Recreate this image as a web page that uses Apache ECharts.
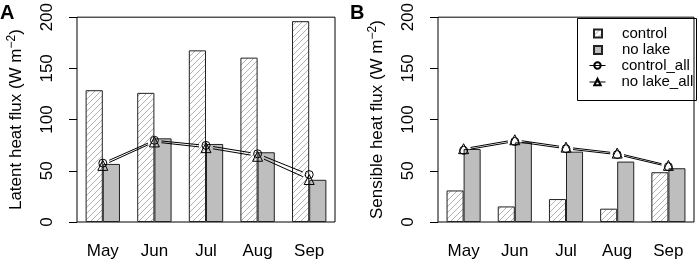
<!DOCTYPE html>
<html>
<head>
<meta charset="utf-8">
<script src="https://cdn.jsdelivr.net/npm/echarts@6/dist/echarts.min.js"></script>
<style>
  html, body { margin: 0; padding: 0; background: #fff; }
  #main { width: 699px; height: 266px; }
</style>
</head>
<body>
<div id="main"></div>
<script>
var months = ['May', 'Jun', 'Jul', 'Aug', 'Sep'];
var yTicks = [0, 50, 100, 150, 200];

// panel A: latent heat flux
var latentControl = [128.7, 126.1, 167.6, 160.5, 196.1];
var latentNoLake = [56.7, 81.7, 76.2, 68.1, 41.2];
var latentControlAll = [57.5, 79.8, 74.8, 66.6, 46.3];
var latentNoLakeAll = [55.3, 78.2, 72.6, 64.2, 41.5];

// panel B: sensible heat flux
var sensibleControl = [30.8, 15.2, 22.4, 13.0, 48.6];
var sensibleNoLake = [71.3, 77.8, 68.7, 59.0, 52.5];
var sensibleControlAll = [70.0, 78.6, 71.5, 65.8, 54.0];
var sensibleNoLakeAll = [71.6, 80.3, 73.1, 67.3, 55.3];

var FONT = 'Liberation Sans, Arial, sans-serif';
var myChart = echarts.init(document.getElementById('main'));

// hatch pattern for the control bars
var hatch = (function () {
    var c = document.createElement('canvas');
    c.width = 6; c.height = 6;
    var g = c.getContext('2d');
    g.fillStyle = '#fff';
    g.fillRect(0, 0, 6, 6);
    g.strokeStyle = '#a8a8a8';
    g.lineWidth = 0.9;
    g.beginPath();
    g.moveTo(0, 6); g.lineTo(6, 0);
    g.moveTo(-1, 1); g.lineTo(1, -1);
    g.moveTo(5, 7); g.lineTo(7, 5);
    g.stroke();
    return c;
})();

// segments between points, shortened near the markers (like R type="b")
function segments(vals) {
    var out = [];
    for (var i = 0; i < vals.length - 1; i++) {
        out.push([i, vals[i], i + 1, vals[i + 1]]);
    }
    return out;
}
function renderSeg(params, api) {
    var a = api.coord([api.value(0), api.value(1)]);
    var b = api.coord([api.value(2), api.value(3)]);
    var dx = b[0] - a[0], dy = b[1] - a[1];
    var len = Math.sqrt(dx * dx + dy * dy);
    var ux = dx / len, uy = dy / len, r = 7;
    return {
        type: 'line',
        shape: { x1: a[0] + ux * r, y1: a[1] + uy * r, x2: b[0] - ux * r, y2: b[1] - uy * r },
        style: { stroke: '#000', lineWidth: 1 }
    };
}

function panelSeries(idx, control, noLake, controlAll, noLakeAll) {
    return [
        {
            name: 'control', type: 'bar', xAxisIndex: idx, yAxisIndex: idx,
            data: control, barWidth: '33.3%', barGap: '0%',
            itemStyle: { color: { image: hatch, repeat: 'repeat' }, borderColor: '#222', borderWidth: 1 }
        },
        {
            name: 'no lake', type: 'bar', xAxisIndex: idx, yAxisIndex: idx,
            data: noLake, barWidth: '33.3%', barGap: '0%',
            itemStyle: { color: '#bebebe', borderColor: '#222', borderWidth: 1 }
        },
        {
            type: 'custom', xAxisIndex: idx, yAxisIndex: idx, z: 4,
            data: segments(controlAll), encode: { x: [0, 2], y: [1, 3] }, renderItem: renderSeg
        },
        {
            type: 'custom', xAxisIndex: idx, yAxisIndex: idx, z: 4,
            data: segments(noLakeAll), encode: { x: [0, 2], y: [1, 3] }, renderItem: renderSeg
        },
        {
            name: 'control_all', type: 'line', xAxisIndex: idx, yAxisIndex: idx, z: 5,
            data: controlAll, symbol: 'circle', symbolSize: 8, showAllSymbol: true,
            lineStyle: { color: '#000', width: 1, opacity: 0 },
            itemStyle: { color: 'rgba(0,0,0,0)', borderColor: '#000', borderWidth: 1 }
        },
        {
            name: 'no lake_all', type: 'line', xAxisIndex: idx, yAxisIndex: idx, z: 5,
            data: noLakeAll, symbol: 'triangle', symbolSize: 10, showAllSymbol: true,
            lineStyle: { color: '#000', width: 1, opacity: 0 },
            itemStyle: { color: 'rgba(0,0,0,0)', borderColor: '#000', borderWidth: 1 }
        }
    ];
}

function yAxisOf(idx, title) {
    return {
        type: 'value', gridIndex: idx, min: 0, max: 200, interval: 50,
        name: title, nameLocation: 'middle', nameGap: 50,
        nameTextStyle: {
            fontFamily: FONT, fontSize: 17, color: '#000',
            rich: { sup: { fontFamily: FONT, fontSize: 12, color: '#000', padding: [0, 0, 9, 0] } }
        },
        axisLine: { show: false },
        axisTick: { show: true, length: 8, lineStyle: { color: '#000' } },
        splitLine: { show: false },
        axisLabel: {
            rotate: 90, margin: 21, fontFamily: FONT, fontSize: 17, color: '#000',
            customValues: yTicks
        }
    };
}

function xAxisOf(idx) {
    return {
        type: 'category', gridIndex: idx, data: months,
        axisLine: { show: false }, axisTick: { show: false },
        axisLabel: { margin: 21, fontFamily: FONT, fontSize: 17, color: '#000' }
    };
}

var series = panelSeries(0, latentControl, latentNoLake, latentControlAll, latentNoLakeAll)
    .concat(panelSeries(1, sensibleControl, sensibleNoLake, sensibleControlAll, sensibleNoLakeAll));

myChart.setOption({
    animation: false,
    grid: [
        { left: 77, top: 16, width: 258, height: 206, show: true, borderColor: '#000', borderWidth: 1 },
        { left: 438, top: 16, width: 256, height: 206, show: true, borderColor: '#000', borderWidth: 1 }
    ],
    xAxis: [xAxisOf(0), xAxisOf(1)],
    yAxis: [
        yAxisOf(0, 'Latent heat flux (W m{sup|\u22122})'),
        yAxisOf(1, 'Sensible heat flux (W m{sup|\u22122})')
    ],
    legend: [
        {
            data: ['control', 'no lake'], orient: 'vertical', left: 593, top: 26, padding: 0,
            icon: 'rect', itemWidth: 8, itemHeight: 8, itemGap: 1.5, selectedMode: false,
            textStyle: { fontFamily: FONT, fontSize: 15, color: '#000', padding: [0, 0, 0, 15] }
        },
        {
            data: ['control_all', 'no lake_all'], orient: 'vertical', left: 589, top: 58, padding: 0,
            itemWidth: 16, itemHeight: 8, itemGap: 1.5, selectedMode: false,
            lineStyle: { color: '#000', width: 1, opacity: 1 },
            textStyle: { fontFamily: FONT, fontSize: 15, color: '#000', padding: [0, 0, 0, 11] }
        }
    ],
    graphic: [
        { type: 'text', left: 0, top: 3, style: { text: 'A', font: 'bold 20px ' + FONT, fill: '#000' } },
        { type: 'text', left: 350, top: 3, style: { text: 'B', font: 'bold 20px ' + FONT, fill: '#000' } },
        { type: 'rect', left: 575, top: 16, shape: { width: 119, height: 82 },
          style: { fill: 'none', stroke: '#000', lineWidth: 1 } }
    ],
    series: series
});
</script>
</body>
</html>
